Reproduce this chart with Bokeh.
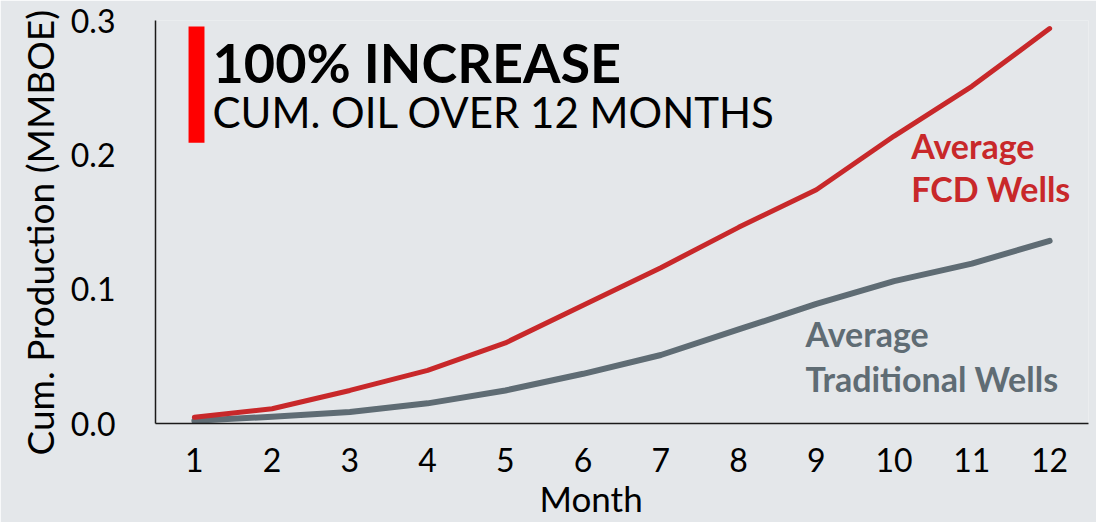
from bokeh.plotting import figure
from bokeh.models import Label, BoxAnnotation, FixedTicker, NumeralTickFormatter, Range1d, Title
from bokeh.embed import file_html
from bokeh.resources import INLINE

# Cumulative production per month (MMBOE)
months = [1, 2, 3, 4, 5, 6, 7, 8, 9, 10, 11, 12]
fcd_wells = [0.0047, 0.011, 0.0246, 0.0396, 0.060, 0.088, 0.116, 0.146, 0.174, 0.214, 0.251, 0.294]
traditional_wells = [0.002, 0.005, 0.0085, 0.015, 0.0246, 0.037, 0.051, 0.070, 0.089, 0.106, 0.119, 0.136]
y_ticks = [0.0, 0.1, 0.2, 0.3]

FONT = "Lato"
BG = "#e4e7ea"
RED = "#c8282a"
GREY = "#5f6c74"

p = figure(width=1096, height=522, output_backend="svg", toolbar_location=None,
           x_range=Range1d(0.5, 12.5), y_range=Range1d(0, 0.3),
           min_border_left=155, min_border_right=8, min_border_top=20, min_border_bottom=99)
p.background_fill_color = BG
p.border_fill_color = BG
p.outline_line_color = None
p.grid.visible = False

for ax in (p.xaxis[0], p.yaxis[0]):
    ax.axis_line_color = "#1a1a1a"
    ax.axis_line_width = 1.5
    ax.major_tick_line_color = None
    ax.minor_tick_line_color = None
    ax.major_label_text_font = FONT
    ax.major_label_text_font_size = "32px"
    ax.major_label_text_color = "#000000"

p.xaxis.ticker = FixedTicker(ticks=months)
p.xaxis.major_label_standoff = 18

p.yaxis.ticker = FixedTicker(ticks=y_ticks)
p.yaxis.formatter = NumeralTickFormatter(format="0.0")
p.yaxis.major_label_standoff = 34

# Axis titles, set beside the axes
p.add_layout(Title(text="Month", text_font=FONT, text_font_size="35px",
                   text_font_style="normal", text_color="#000000",
                   align="left", offset=384, standoff=0), "below")
p.add_layout(Title(text="Cum. Production (MMBOE)", text_font=FONT, text_font_size="37px",
                   text_font_style="normal", text_color="#000000",
                   align="left", offset=-32, standoff=12), "left")

p.line(months, traditional_wells, line_color=GREY, line_width=6,
       line_cap="round", line_join="round")
p.line(months, fcd_wells, line_color=RED, line_width=5,
       line_cap="round", line_join="round")

# Headline block with red accent bar
p.add_layout(BoxAnnotation(left=0.925, right=1.13, bottom=0.209, top=0.2955,
                           fill_color="#ff0000", fill_alpha=1.0, line_color=None))
p.add_layout(Label(x=1.233, y=0.269, text="100% INCREASE", text_font=FONT,
                   text_font_size="54px", text_font_style="bold", text_color="#000000",
                   text_baseline="alphabetic"))
p.add_layout(Label(x=1.233, y=0.2322, text="CUM. OIL OVER 12 MONTHS", text_font=FONT,
                   text_font_size="42px", text_color="#000000", text_baseline="alphabetic"))

# Series labels
for txt, yy in (("Average", 0.207), ("FCD Wells", 0.175)):
    p.add_layout(Label(x=10.22, y=yy, text=txt, text_font=FONT, text_font_size="34px",
                       text_font_style="bold", text_color=RED, text_baseline="alphabetic"))
for txt, yy in (("Average", 0.067), ("Traditional Wells", 0.0336)):
    p.add_layout(Label(x=8.86, y=yy, text=txt, text_font=FONT, text_font_size="34px",
                       text_font_style="bold", text_color=GREY, text_baseline="alphabetic"))

open("out.html", "w").write(file_html(p, INLINE))
